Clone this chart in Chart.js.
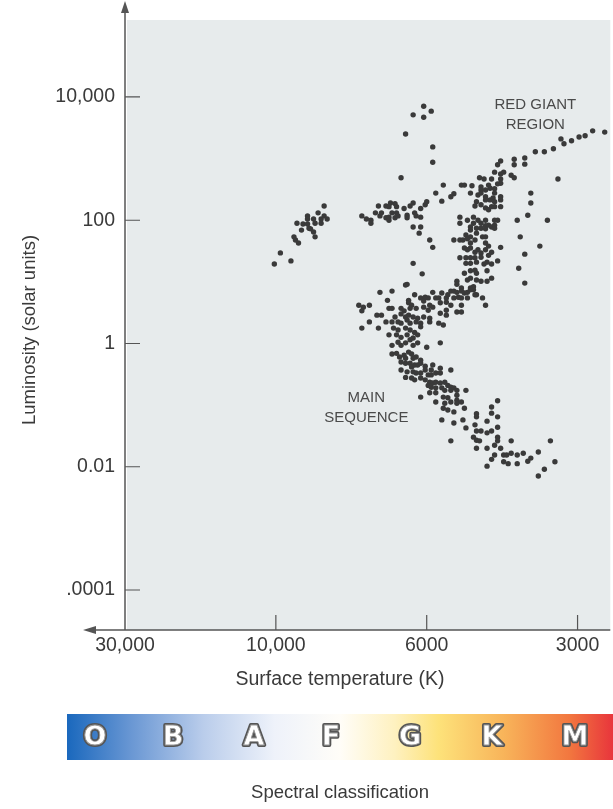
<!DOCTYPE html>
<html>
<head>
<meta charset="utf-8">
<script src="https://cdn.jsdelivr.net/npm/chart.js@4.4.1/dist/chart.umd.min.js"></script>
<style>
  html, body { margin: 0; padding: 0; background: #fff; }
  #wrap { width: 613px; height: 809px; position: relative; }
</style>
</head>
<body>
<div id="wrap"><canvas id="hr"></canvas></div>
<script>
// x = position along the temperature axis (0 = 30,000 K, 1 = 10,000 K, 2 = 6000 K, 3 = 3000 K)
// y = log10 of luminosity (solar units)
const xTickPos = [0, 1, 2, 3];
const xTickLabels = ['30,000', '10,000', '6000', '3000'];
const yTickPos = [4, 2, 0, -2, -4];
const yTickLabels = ['10,000', '100', '1', '0.01', '.0001'];
const spectralClasses = ['O', 'B', 'A', 'F', 'G', 'K', 'M'];

const blueHB = [
  [1.32, 2.23], [1.28, 2.12], [1.21, 2.07], [1.21, 2.02], [1.25, 2.02], [1.26, 1.95], [1.30, 2.02], [1.30, 1.95],
  [1.32, 2.07], [1.34, 2.02], [1.14, 1.95], [1.18, 1.94], [1.21, 1.94], [1.22, 1.87], [1.23, 1.86], [1.17, 1.84],
  [1.25, 1.81], [1.26, 1.73], [1.12, 1.73], [1.13, 1.68], [1.15, 1.63], [1.03, 1.47], [1.10, 1.34], [0.99, 1.29]
];
const redHB = [
  [1.57, 2.07], [1.60, 2.02], [1.63, 2.00], [1.63, 1.95], [1.66, 2.12], [1.68, 2.23], [1.70, 2.12], [1.69, 2.07],
  [1.73, 2.23], [1.75, 2.22], [1.76, 2.28], [1.79, 2.27], [1.80, 2.22], [1.73, 2.04], [1.75, 2.05], [1.75, 2.00],
  [1.77, 2.12], [1.79, 2.04], [1.80, 2.12], [1.81, 2.07], [1.85, 2.19], [1.87, 2.08], [1.87, 2.04], [1.89, 2.23],
  [1.91, 2.28], [1.92, 2.12], [1.93, 2.07], [1.96, 2.19], [1.96, 2.05], [1.91, 1.89], [1.96, 1.89], [1.95, 1.79],
  [1.99, 2.25], [2.00, 2.30], [1.91, 1.30], [1.97, 1.13], [1.87, 0.96]
];
const giantTip = [
  [1.98, 3.85], [2.03, 3.77], [1.91, 3.71], [1.98, 3.67], [1.86, 3.40], [1.83, 2.69], [2.04, 3.19], [2.04, 2.94],
  [2.72, 3.11], [2.78, 3.11], [2.84, 3.16], [2.89, 3.32], [2.91, 3.24], [2.96, 3.29], [3.01, 3.35], [3.05, 3.37],
  [3.10, 3.45], [3.18, 3.43], [2.87, 2.67]
];
const giantBranch = [
  [2.58, 2.99], [2.58, 2.90], [2.65, 3.01], [2.65, 2.91], [2.49, 2.96], [2.47, 2.90], [2.45, 2.78], [2.49, 2.75],
  [2.51, 2.78], [2.56, 2.73], [2.58, 2.69], [2.35, 2.69], [2.38, 2.67], [2.43, 2.67], [2.49, 2.67], [2.49, 2.60],
  [2.41, 2.57], [2.47, 2.59], [2.11, 2.57], [2.23, 2.57], [2.25, 2.57], [2.30, 2.56], [2.36, 2.54], [2.36, 2.49],
  [2.39, 2.49], [2.42, 2.52], [2.45, 2.51], [2.45, 2.44], [2.49, 2.38], [2.49, 2.33], [2.06, 2.44], [2.18, 2.43],
  [2.16, 2.38], [2.29, 2.44], [2.34, 2.41], [2.36, 2.44], [2.39, 2.38], [2.39, 2.33], [2.42, 2.33], [2.44, 2.36],
  [2.45, 2.30], [2.69, 2.44], [2.69, 2.28], [2.10, 2.31], [2.33, 2.30], [2.32, 2.23], [2.36, 2.25], [2.39, 2.20],
  [2.41, 2.17], [2.43, 2.22], [2.45, 2.22], [2.49, 2.22], [2.67, 2.08], [2.60, 2.00], [2.80, 2.00], [2.22, 2.05],
  [2.22, 1.95], [2.27, 2.00], [2.31, 2.05], [2.31, 1.95], [2.34, 2.00], [2.36, 1.95], [2.39, 2.00], [2.41, 1.92],
  [2.45, 2.00], [2.47, 2.00], [2.29, 1.89], [2.29, 1.84], [2.33, 1.87], [2.36, 1.87], [2.39, 1.91], [2.39, 1.86],
  [2.43, 1.89], [2.45, 1.92], [2.45, 1.87], [2.26, 1.76], [2.29, 1.73], [2.33, 1.79], [2.37, 1.73], [2.39, 1.73],
  [2.62, 1.73], [2.02, 1.68], [2.04, 1.56], [2.18, 1.68], [2.22, 1.68], [2.24, 1.68], [2.27, 1.70], [2.29, 1.63],
  [2.32, 1.68], [2.39, 1.63], [2.41, 1.58], [2.49, 1.56], [2.75, 1.58], [2.25, 1.55], [2.27, 1.52], [2.29, 1.55],
  [2.32, 1.48], [2.34, 1.52], [2.36, 1.47], [2.39, 1.52], [2.41, 1.43], [2.43, 1.48], [2.65, 1.45]
];
const subgiants = [
  [2.22, 1.39], [2.26, 1.39], [2.29, 1.39], [2.32, 1.39], [2.36, 1.40], [2.40, 1.32], [2.47, 1.34], [2.26, 1.30],
  [2.29, 1.30], [2.33, 1.32], [2.38, 1.29], [2.43, 1.29], [2.61, 1.22], [2.25, 1.14], [2.29, 1.18], [2.32, 1.19],
  [2.33, 1.14], [2.40, 1.18], [2.27, 1.03], [2.29, 1.06], [2.33, 1.03], [2.36, 1.01], [2.40, 1.01], [2.43, 1.06],
  [2.65, 0.98], [2.20, 1.01], [2.20, 0.96], [2.23, 0.90], [2.29, 0.90], [2.31, 0.92], [2.04, 0.83], [2.10, 0.82],
  [2.16, 0.85], [2.18, 0.85], [2.20, 0.83], [2.23, 0.85], [2.25, 0.82], [2.27, 0.83], [2.29, 0.87], [2.31, 0.87],
  [2.32, 0.79], [2.33, 0.79], [2.37, 0.74], [2.01, 0.74], [2.06, 0.74], [2.08, 0.74], [2.13, 0.74], [2.14, 0.79],
  [2.18, 0.74], [2.21, 0.75], [2.23, 0.74], [2.27, 0.74], [2.02, 0.62], [2.04, 0.59], [2.09, 0.66], [2.13, 0.67],
  [2.16, 0.62], [2.23, 0.62], [2.39, 0.62], [2.01, 0.54], [2.09, 0.49], [2.13, 0.46], [2.20, 0.51], [2.23, 0.51],
  [2.02, 0.41], [2.02, 0.35], [2.09, 0.01], [1.96, 0.74], [1.99, 0.75], [2.11, 0.30], [2.08, 0.33], [2.13, 0.54]
];
const turnoff = [
  [1.69, 0.83], [1.77, 0.85], [1.86, 0.95], [1.92, 0.79], [1.98, 0.69], [1.88, 0.70], [1.88, 0.66], [1.90, 0.62],
  [1.89, 0.57], [1.55, 0.62], [1.58, 0.59], [1.62, 0.62], [1.57, 0.53], [1.74, 0.70], [1.75, 0.57], [1.77, 0.57],
  [1.83, 0.57], [1.85, 0.53], [1.93, 0.57], [1.98, 0.59], [1.67, 0.46], [1.70, 0.46], [1.79, 0.43], [1.83, 0.48],
  [1.86, 0.43], [1.88, 0.46], [1.91, 0.43], [1.94, 0.41], [1.98, 0.43], [1.62, 0.35], [1.73, 0.35], [1.77, 0.35],
  [1.81, 0.35], [1.83, 0.33], [1.87, 0.38], [1.89, 0.33], [1.93, 0.35], [1.96, 0.33], [1.57, 0.25], [1.68, 0.25],
  [1.78, 0.25], [1.81, 0.22], [1.86, 0.25], [1.89, 0.22], [1.92, 0.18], [1.96, 0.27], [1.75, 0.14], [1.80, 0.14],
  [1.83, 0.10], [1.87, 0.14], [1.91, 0.09], [1.94, 0.14], [1.81, 0.02], [1.83, -0.03], [1.86, 0.01], [1.89, 0.06],
  [1.91, -0.03], [1.94, 0.01], [1.77, -0.03], [2.00, -0.06]
];
const mainSeqUpper = [
  [1.77, -0.17], [1.80, -0.16], [1.82, -0.22], [1.85, -0.19], [1.86, -0.24], [1.88, -0.14], [1.90, -0.17], [1.91, -0.24],
  [1.93, -0.22], [1.96, -0.27], [1.83, -0.30], [1.86, -0.32], [1.89, -0.32], [1.90, -0.38], [1.92, -0.35], [1.94, -0.35],
  [1.96, -0.32], [1.99, -0.37], [2.04, -0.35], [2.09, -0.40], [2.16, -0.43], [1.83, -0.43], [1.87, -0.46], [1.91, -0.46],
  [1.93, -0.48], [1.96, -0.48], [1.99, -0.43], [2.01, -0.51], [2.03, -0.51], [2.06, -0.48], [2.09, -0.48], [2.03, -0.43],
  [1.86, -0.55], [1.90, -0.56], [1.92, -0.59], [1.96, -0.56], [1.99, -0.59], [2.02, -0.63], [2.04, -0.64], [2.06, -0.63],
  [2.09, -0.64], [2.12, -0.63], [2.14, -0.68], [2.16, -0.71], [2.01, -0.68], [2.03, -0.71], [2.06, -0.72], [2.10, -0.72],
  [2.12, -0.76], [2.16, -0.76], [2.18, -0.72], [2.26, -0.76], [2.20, -0.76], [2.20, -0.84], [2.20, -0.92], [2.20, -0.97],
  [1.96, -0.87], [2.02, -0.80], [2.06, -0.80], [2.11, -0.87], [2.14, -0.88], [2.06, -0.95], [2.12, -0.97], [2.16, -0.95],
  [2.23, -0.95], [2.11, -1.05], [2.14, -1.08], [2.18, -1.11], [2.25, -1.05], [2.10, -1.24], [2.18, -1.29], [2.24, -1.24],
  [2.26, -1.37], [2.32, -1.32], [2.16, -1.58], [2.31, -1.52], [2.33, -1.57]
];
const mainSeqLower = [
  [2.47, -0.93], [2.43, -1.03], [2.43, -1.13], [2.47, -1.19], [2.40, -1.26], [2.40, -1.45], [2.43, -1.42], [2.47, -1.36],
  [2.47, -1.52], [2.47, -1.58], [2.35, -1.58], [2.36, -1.42], [2.45, -1.65], [2.49, -1.70], [2.40, -1.70], [2.56, -1.58],
  [2.82, -1.58], [2.45, -1.81], [2.43, -1.88], [2.51, -1.81], [2.53, -1.81], [2.56, -1.78], [2.60, -1.81], [2.64, -1.78],
  [2.74, -1.76], [2.51, -1.92], [2.54, -1.95], [2.60, -1.95], [2.67, -1.91], [2.69, -1.86], [2.40, -1.99], [2.85, -1.92],
  [2.78, -2.04], [2.74, -2.15], [2.33, -1.14], [2.33, -1.19], [2.33, -1.42], [2.33, -1.70]
];

const regionLabels = [
  { lines: ['RED GIANT', 'REGION'], x: 2.72, y: 3.87, dy: -0.33 },
  { lines: ['MAIN', 'SEQUENCE'], x: 1.60, y: -0.89, dy: -0.32 }
];

const allStars = [].concat(blueHB, redHB, giantTip, giantBranch, subgiants, turnoff, mainSeqUpper, mainSeqLower)
  .map(p => ({ x: p[0], y: p[1] }));

const FONT = "'Liberation Sans', Arial, sans-serif";
const INK = '#3a3a3a';

const decor = {
  id: 'decor',
  beforeDatasetsDraw(chart) {
    const { ctx, chartArea: a } = chart;
    ctx.save();
    ctx.fillStyle = '#e7ebec';
    ctx.fillRect(a.left + 2, a.top, a.right - a.left - 2, a.bottom - a.top);
    ctx.restore();
  },
  afterDraw(chart) {
    const { ctx, chartArea: a, scales: { x, y } } = chart;
    ctx.save();
    ctx.strokeStyle = '#555';
    ctx.fillStyle = '#555';
    ctx.lineWidth = 1.5;
    // axes
    ctx.beginPath();
    ctx.moveTo(a.left, a.bottom); ctx.lineTo(a.left, 10);
    ctx.moveTo(a.right, a.bottom); ctx.lineTo(a.left - 32, a.bottom);
    ctx.stroke();
    ctx.beginPath();
    ctx.moveTo(a.left, 1); ctx.lineTo(a.left - 4, 13); ctx.lineTo(a.left + 4, 13); ctx.closePath(); ctx.fill();
    ctx.beginPath();
    ctx.moveTo(a.left - 42, a.bottom); ctx.lineTo(a.left - 29, a.bottom - 4); ctx.lineTo(a.left - 29, a.bottom + 4); ctx.closePath(); ctx.fill();

    // ticks
    ctx.lineWidth = 1.2;
    ctx.beginPath();
    yTickPos.forEach(v => { const py = y.getPixelForValue(v); ctx.moveTo(a.left, py); ctx.lineTo(a.left + 15, py); });
    xTickPos.slice(1).forEach(v => { const px = x.getPixelForValue(v); ctx.moveTo(px, a.bottom); ctx.lineTo(px, a.bottom - 15); });
    ctx.stroke();

    ctx.fillStyle = INK;
    ctx.font = '19.5px ' + FONT;
    ctx.textAlign = 'right'; ctx.textBaseline = 'middle';
    yTickPos.forEach((v, i) => ctx.fillText(yTickLabels[i], a.left - 10, y.getPixelForValue(v)));
    ctx.textAlign = 'center';
    xTickPos.forEach((v, i) => ctx.fillText(xTickLabels[i], x.getPixelForValue(v), a.bottom + 16));
    ctx.fillText('Surface temperature (K)', 340, a.bottom + 50);
    ctx.font = '18.5px ' + FONT;
    ctx.fillText('Spectral classification', 340, 793);
    ctx.save();
    ctx.translate(30, 330); ctx.rotate(-Math.PI / 2);
    ctx.fillText('Luminosity (solar units)', 0, 0);
    ctx.restore();

    // region labels
    ctx.font = '15px ' + FONT;
    ctx.fillStyle = '#4a4a4a';
    regionLabels.forEach(r => {
      r.lines.forEach((t, i) => ctx.fillText(t, x.getPixelForValue(r.x), y.getPixelForValue(r.y + i * r.dy)));
    });

    // spectral colour bar
    const bx = 67, bw = 613 - 67, by = 714, bh = 46;
    const g = ctx.createLinearGradient(bx, 0, bx + bw, 0);
    g.addColorStop(0, '#1a68bd');
    g.addColorStop(0.12, '#6b98d4');
    g.addColorStop(0.25, '#bacdeb');
    g.addColorStop(0.38, '#eef2fa');
    g.addColorStop(0.5, '#fffdf8');
    g.addColorStop(0.6, '#fef1c0');
    g.addColorStop(0.68, '#fde27a');
    g.addColorStop(0.8, '#f8b45a');
    g.addColorStop(0.92, '#f2773f');
    g.addColorStop(1, '#e8353c');
    ctx.fillStyle = g;
    ctx.fillRect(bx, by, bw, bh);
    const letterX = [95, 173, 254, 331, 410, 492, 575];
    ctx.font = 'bold 27px ' + "'DejaVu Sans', " + FONT;
    ctx.lineJoin = 'round';
    spectralClasses.forEach((c, i) => {
      ctx.lineWidth = 4; ctx.strokeStyle = '#555';
      ctx.strokeText(c, letterX[i], by + bh / 2 + 1);
      ctx.fillStyle = '#ffffff';
      ctx.fillText(c, letterX[i], by + bh / 2 + 1);
      ctx.lineWidth = 0.8; ctx.strokeStyle = '#9a9a9a';
      ctx.strokeText(c, letterX[i], by + bh / 2 + 1);
    });
    ctx.restore();
  }
};

new Chart(document.getElementById('hr'), {
  type: 'scatter',
  data: { datasets: [{ data: allStars, backgroundColor: INK, borderWidth: 0, pointRadius: 2.7, pointHoverRadius: 2.7 }] },
  options: {
    responsive: true, maintainAspectRatio: false, animation: false,
    layout: { padding: { left: 125, right: 0, top: 20, bottom: 179 } },
    plugins: { legend: { display: false }, tooltip: { enabled: false } },
    scales: {
      x: { type: 'linear', display: false, min: 0, max: 3.217 },
      y: { type: 'linear', display: false, min: -4.649, max: 5.249 }
    }
  },
  plugins: [decor]
});
</script>
</body>
</html>
